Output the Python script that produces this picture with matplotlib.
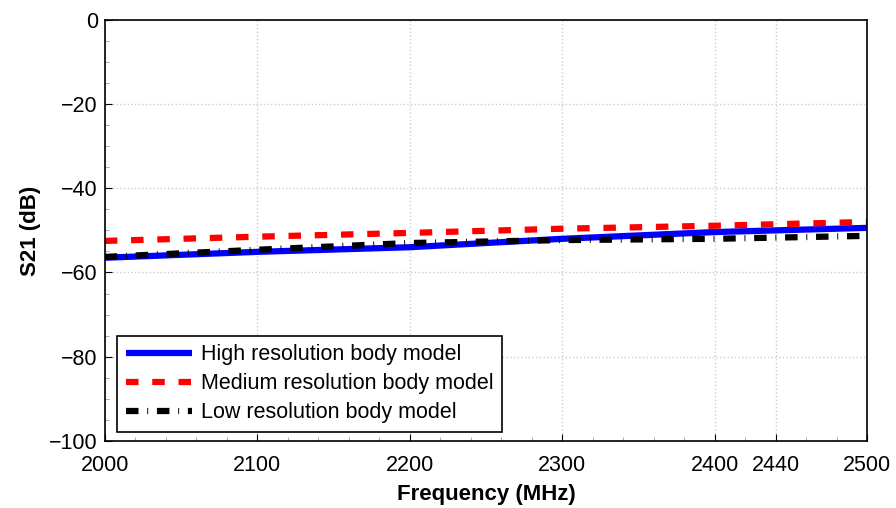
import matplotlib
matplotlib.use("Agg")
import matplotlib.pyplot as plt
from matplotlib.ticker import MultipleLocator

freq = [2000, 2100, 2200, 2300, 2400, 2500]
high_res = [-56.5, -55.1, -54.0, -52.0, -50.4, -49.4]
medium_res = [-52.5, -51.5, -50.6, -49.6, -48.9, -48.0]
low_res = [-56.3, -54.6, -53.0, -52.3, -52.0, -51.3]

xticks = [2000, 2100, 2200, 2300, 2400, 2440, 2500]
yticks = [0, -20, -40, -60, -80, -100]

plt.rcParams['font.family'] = ['Liberation Sans', 'DejaVu Sans']

figure, axis = plt.subplots(figsize=(8.96, 5.08), dpi=100)
axis.plot(freq, high_res, color="#0000ff", lw=4.5, solid_capstyle="butt",
          label="High resolution body model")
axis.plot(freq, medium_res, color="#ff0000", lw=4.5, linestyle=(0, (2.0, 2.2)),
          label="Medium resolution body model")
axis.plot(freq, low_res, color="black", lw=4.5, linestyle=(0, (2.0, 1.4, 0.15, 1.4)),
          label="Low resolution body model")

axis.set_xlim(2000, 2500)
axis.set_ylim(-100, 0)
axis.set_xticks(xticks)
axis.set_yticks(yticks)
axis.xaxis.set_minor_locator(MultipleLocator(20))
axis.yaxis.set_minor_locator(MultipleLocator(5))
axis.tick_params(which="both", direction="in", labelsize=15.5)
axis.tick_params(which="major", length=5)
axis.tick_params(axis="x", which="major", pad=10)
axis.tick_params(axis="y", which="major", pad=5)
axis.tick_params(which="minor", length=3, color="#999999")
axis.grid(True, which="major", color="#cccccc", linestyle=":", lw=1)
for sp in axis.spines.values():
    sp.set_linewidth(1.2)

axis.set_xlabel("Frequency (MHz)", fontsize=16, fontweight="bold", labelpad=6)
axis.set_ylabel("S21 (dB)", fontsize=16, fontweight="bold", labelpad=6)

leg = axis.legend(loc="lower left", bbox_to_anchor=(0.016, 0.021), borderaxespad=0,
                  fancybox=False, edgecolor="black", framealpha=1.0,
                  handlelength=3.1, handletextpad=0.4, borderpad=0.4,
                  labelspacing=0.38, prop={'size': 15.5})
leg.get_frame().set_linewidth(1.2)

figure.subplots_adjust(left=0.117, right=0.968, top=0.961, bottom=0.132)
figure.savefig("out.png", dpi=100)
